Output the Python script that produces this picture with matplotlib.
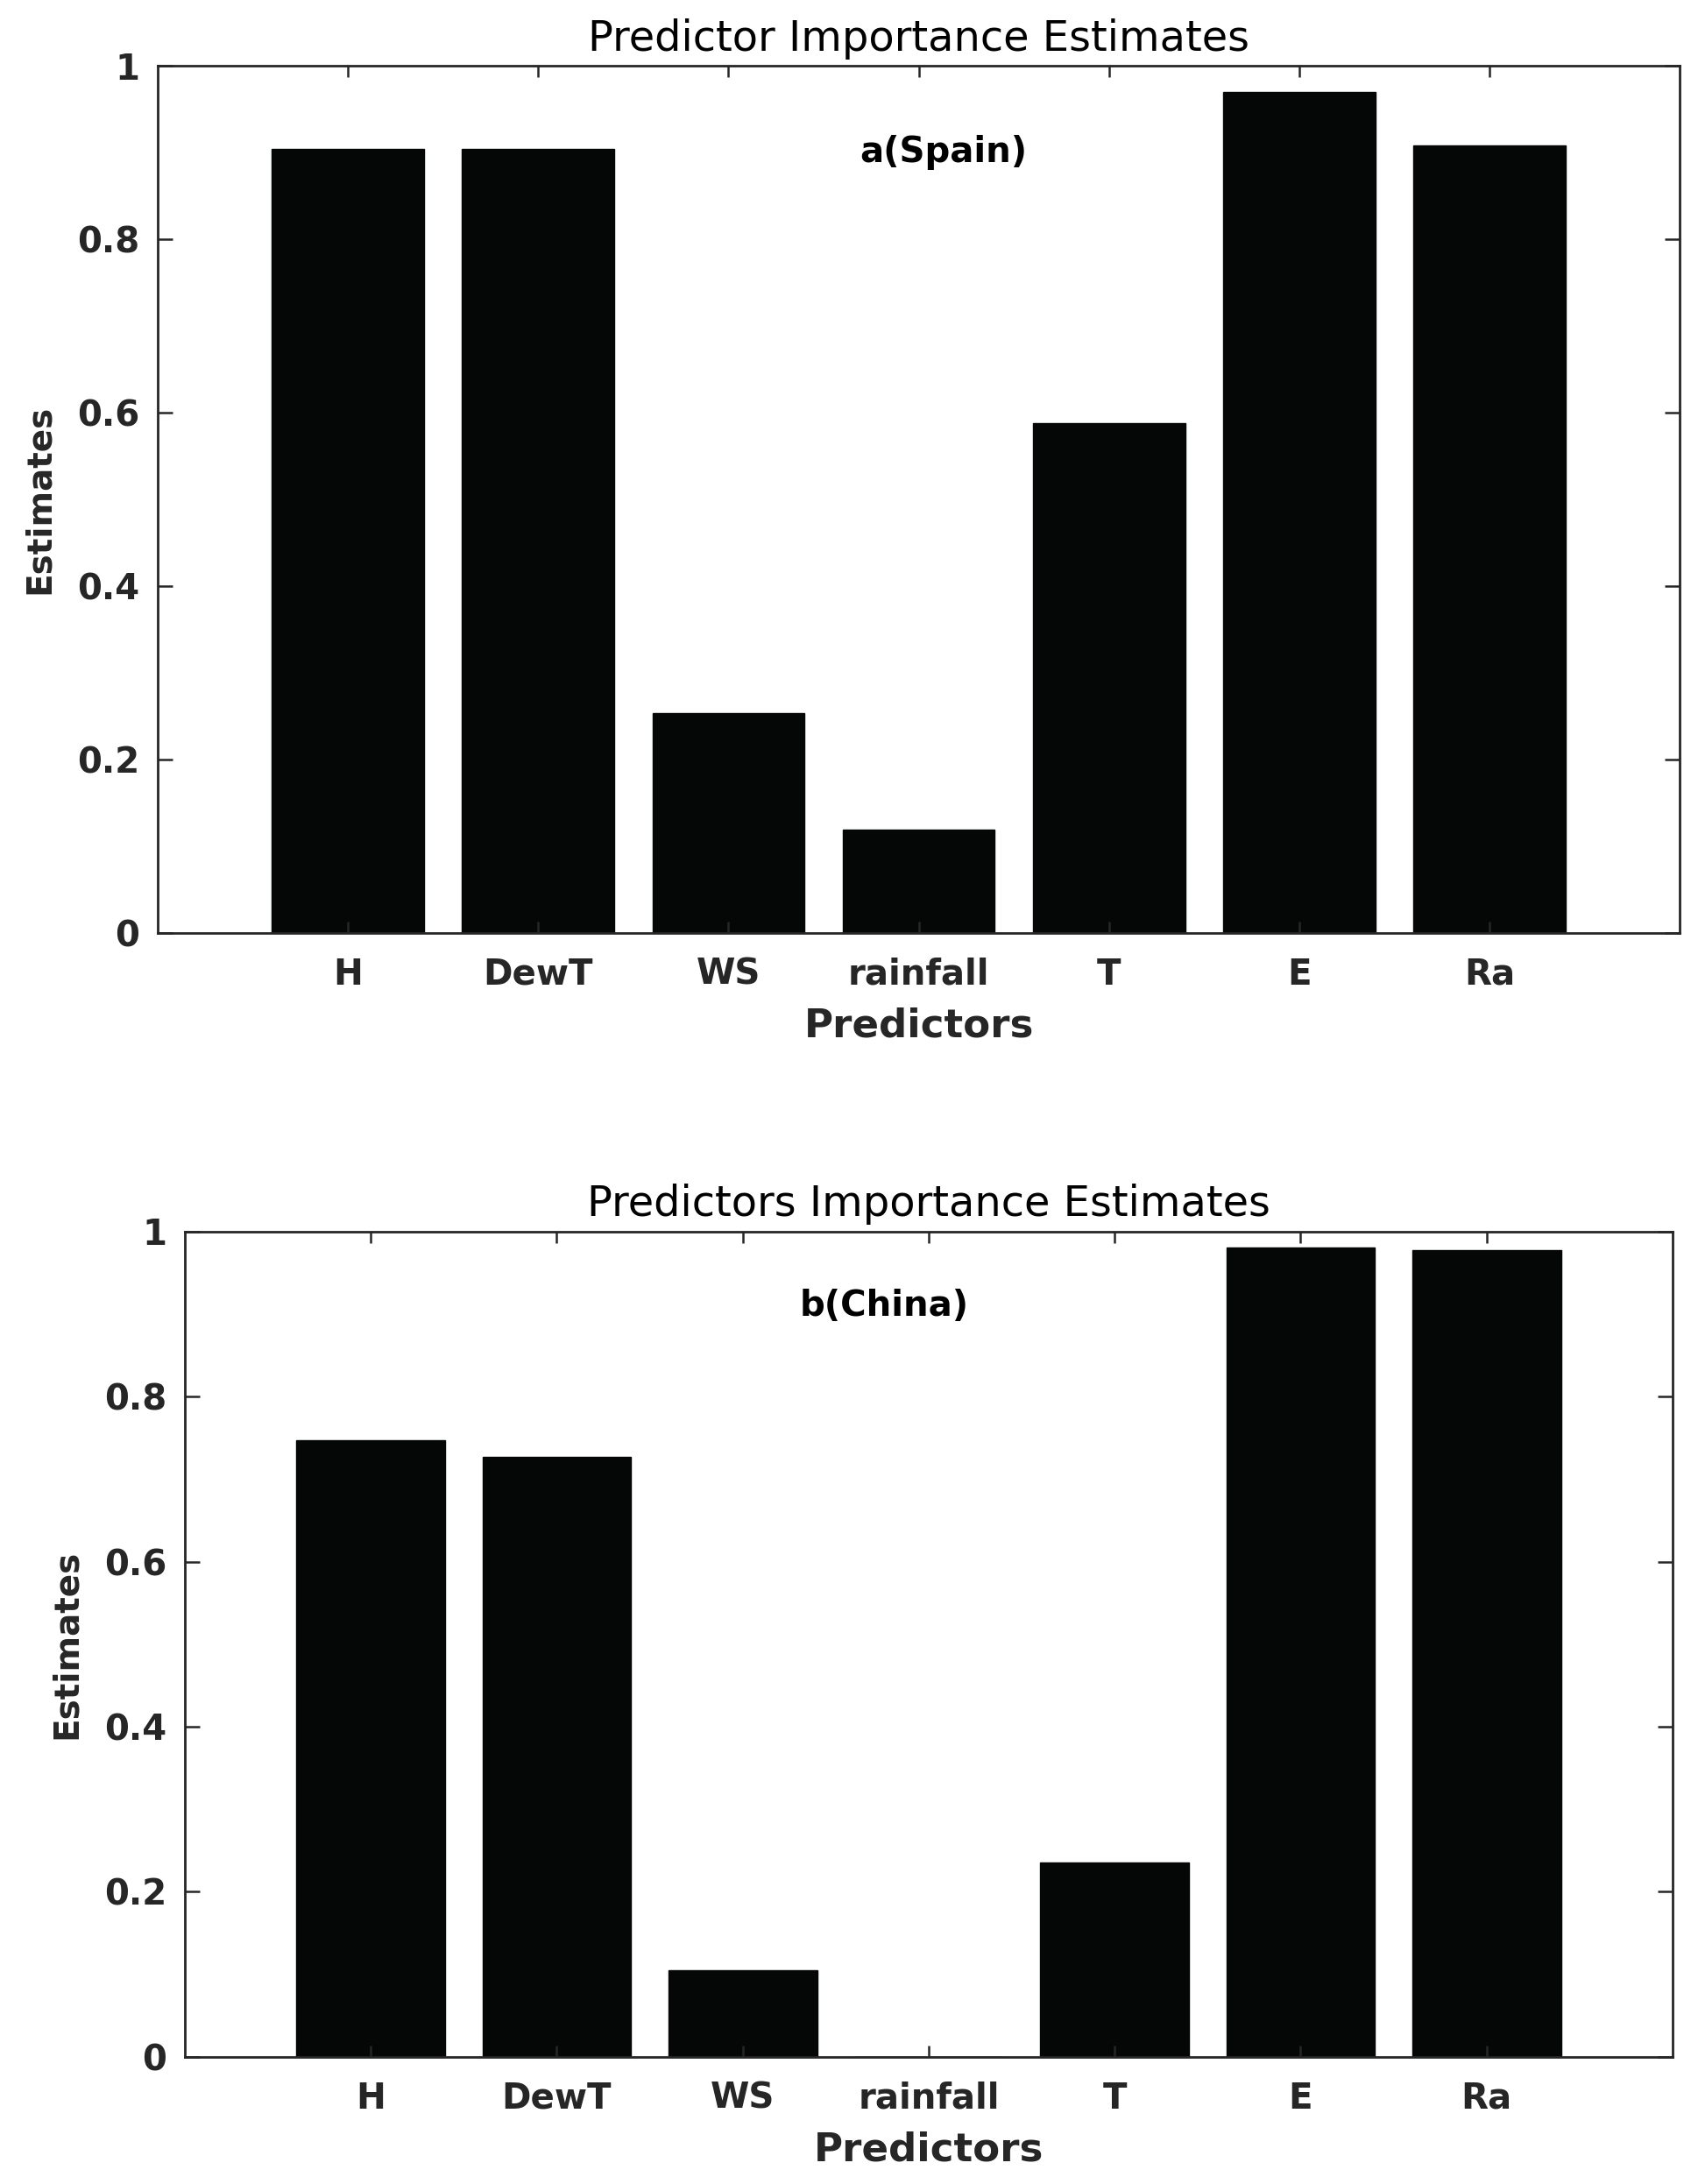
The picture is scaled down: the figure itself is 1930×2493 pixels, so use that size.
import matplotlib.pyplot as plt

predictors = ['H', 'DewT', 'WS', 'rainfall', 'T', 'E', 'Ra']
spain = [0.904, 0.904, 0.254, 0.119, 0.588, 0.970, 0.908]
china = [0.747, 0.727, 0.105, 0.0, 0.236, 0.981, 0.978]
yticks = [0, 0.2, 0.4, 0.6, 0.8, 1]
ytick_labels = ['0', '0.2', '0.4', '0.6', '0.8', '1']

axis_col = '#262626'
bar_col = '#050706'

fig = plt.figure(figsize=(19.3, 24.93), dpi=100)

panels = [
    # axes rect, values, title, tag, tag position, title pad
    ([0.0933, 0.5728, 0.9000, 0.3971], spain, 'Predictor Importance Estimates', 'a(Spain)', (4.13, 0.90), 12),
    ([0.1093, 0.0582, 0.8798, 0.3779], china, 'Predictors Importance Estimates', 'b(China)', (3.76, 0.91), 13),
]

for rect, vals, title, tag, tagpos, tpad in panels:
    ax = fig.add_axes(rect)
    x = list(range(1, len(predictors) + 1))
    ax.bar(x, vals, width=0.8, color=bar_col, edgecolor=bar_col, linewidth=1)
    ax.set_xlim(0, 8)
    ax.set_ylim(0, 1)
    ax.set_xticks(x)
    ax.set_xticklabels(predictors)
    ax.set_yticks(yticks)
    ax.set_yticklabels(ytick_labels)

    for s in ax.spines.values():
        s.set_linewidth(2)
        s.set_color(axis_col)

    ax.tick_params(axis='x', direction='in', length=9.5, width=1.8, top=True,
                   pad=20, labelsize=29, colors=axis_col)
    ax.tick_params(axis='y', direction='in', length=12, width=1.8, right=True,
                   pad=15, labelsize=29, colors=axis_col)
    for lab in ax.get_xticklabels() + ax.get_yticklabels():
        lab.set_fontweight('bold')

    ax.set_title(title, fontsize=34.5, pad=tpad, color='black')
    ax.set_xlabel('Predictors', fontsize=32.5, fontweight='bold', color=axis_col, labelpad=12)
    ax.set_ylabel('Estimates', fontsize=28, fontweight='bold', color=axis_col, labelpad=17)
    ax.text(tagpos[0], tagpos[1], tag, fontsize=29, fontweight='bold',
            ha='center', va='center', color='black')

fig.savefig('out.png', dpi=100)
